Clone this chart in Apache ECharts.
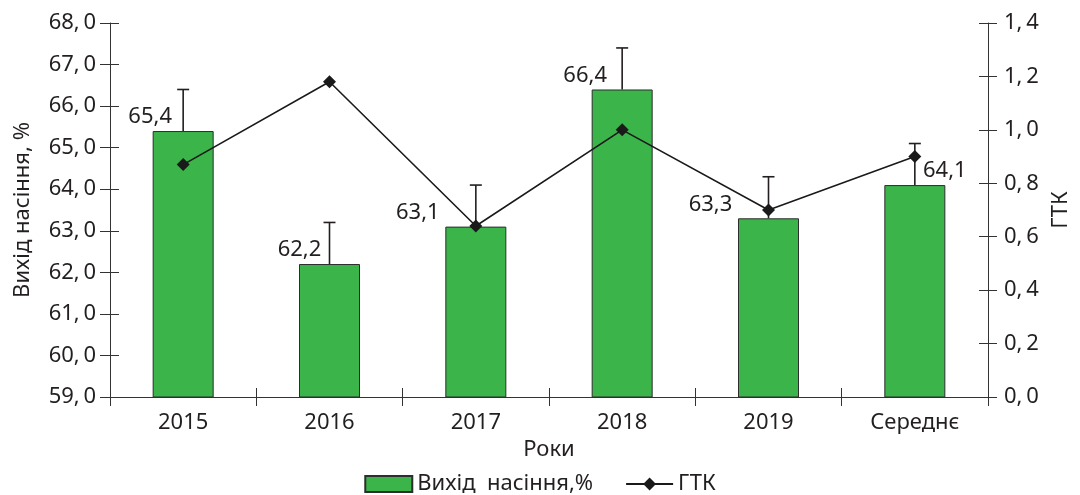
<!DOCTYPE html>
<html>
<head>
<meta charset="utf-8">
<script src="https://cdn.jsdelivr.net/npm/echarts@6/dist/echarts.min.js"></script>
<style>
  html, body { margin: 0; padding: 0; background: #fff; }
  #chart { width: 1080px; height: 495px; }
</style>
</head>
<body>
<div id="chart"></div>
<script>
// дані з рисунку
const years = ["2015", "2016", "2017", "2018", "2019", "Середнє"];
const seedYield = [65.4, 62.2, 63.1, 66.4, 63.3, 64.1];
const seedErr = [1.0, 1.0, 1.0, 1.0, 1.0, 1.0];
const gtk = [0.87, 1.18, 0.64, 1.0, 0.7, 0.9];

// зсув підписів стовпців по горизонталі
const labelShift = [-33, -30, -58, -37, -58, 30];

const FONT = "Noto Sans";
const INK = "#231f20";

const fmtTick = (v) => v.toFixed(1).replace(".", ",\u2009");

let myChart = echarts.init(document.getElementById("chart"));

myChart.setOption({
  animation: false,
  textStyle: { fontFamily: FONT, color: INK },
  grid: { left: 110, right: 78, top: 23, bottom: 98, containLabel: false },
  legend: {
    left: "center",
    top: 468,
    itemWidth: 47,
    itemHeight: 16,
    itemGap: 32,
    textStyle: { fontFamily: FONT, fontSize: 22, color: INK },
    data: [
      { name: "Вихід  насіння,%", icon: "rect" },
      { name: "ГТК" },
    ],
  },
  xAxis: [
    {
      type: "category",
      data: years,
      position: "bottom",
      name: "Роки",
      nameLocation: "middle",
      nameGap: 40,
      nameTextStyle: { fontFamily: FONT, fontSize: 22, color: INK },
      axisLine: { lineStyle: { color: "#333", width: 1 } },
      axisTick: { show: true, length: 9, lineStyle: { color: "#333" } },
      axisLabel: { margin: 15, fontSize: 22, color: INK, fontFamily: FONT, interval: 0 },
      splitLine: { show: false },
    },
    {
      type: "category",
      data: years,
      position: "bottom",
      axisLine: { show: false },
      axisTick: { show: true, inside: true, length: 9, lineStyle: { color: "#333" } },
      axisLabel: { show: false },
      splitLine: { show: false },
    },
  ],
  yAxis: [
    {
      type: "value",
      position: "left",
      min: 59,
      max: 68,
      interval: 1,
      name: "Вихід насіння, %",
      nameLocation: "middle",
      nameRotate: 90,
      nameGap: 76,
      nameTextStyle: { fontFamily: FONT, fontSize: 22, color: INK },
      axisLine: { show: true, lineStyle: { color: "#333", width: 1 } },
      axisTick: { show: true, length: 10, lineStyle: { color: "#333" } },
      axisLabel: { margin: 14, fontSize: 22, color: INK, fontFamily: FONT, formatter: fmtTick },
      splitLine: { show: false },
    },
    {
      type: "value",
      position: "right",
      min: 0,
      max: 1.4,
      interval: 0.2,
      name: "ГТК",
      nameLocation: "middle",
      nameRotate: 90,
      nameGap: 62,
      nameTextStyle: { fontFamily: FONT, fontSize: 22, color: INK },
      axisLine: { show: true, lineStyle: { color: "#333", width: 1 } },
      axisTick: { show: true, length: 9, lineStyle: { color: "#333" } },
      axisLabel: { margin: 16, fontSize: 22, color: INK, fontFamily: FONT, formatter: fmtTick },
      splitLine: { show: false },
    },
    {
      type: "value",
      position: "left",
      min: 59,
      max: 68,
      interval: 1,
      axisLine: { show: false },
      axisTick: { show: true, inside: true, length: 9, lineStyle: { color: "#333" } },
      axisLabel: { show: false },
      splitLine: { show: false },
    },
    {
      type: "value",
      position: "right",
      min: 0,
      max: 1.4,
      interval: 0.2,
      axisLine: { show: false },
      axisTick: { show: true, inside: true, length: 9, lineStyle: { color: "#333" } },
      axisLabel: { show: false },
      splitLine: { show: false },
    },
  ],
  series: [
    {
      name: "Вихід  насіння,%",
      type: "bar",
      yAxisIndex: 0,
      barWidth: 61,
      itemStyle: { color: "#3bb44a", borderColor: "#2d2d2d", borderWidth: 1 },
      data: seedYield.map((v, i) => ({
        value: v,
        label: { offset: [labelShift[i], 0] },
      })),
      label: {
        show: true,
        position: "top",
        distance: 3,
        fontSize: 22,
        fontFamily: FONT,
        color: INK,
        formatter: (p) => p.value.toFixed(1).replace(".", ","),
      },
      z: 2,
    },
    {
      name: "err",
      type: "custom",
      yAxisIndex: 0,
      data: seedYield.map((v, i) => [i, v, seedErr[i]]),
      renderItem(params, api) {
        const x = api.value(0);
        const v = api.value(1);
        const e = api.value(2);
        const p0 = api.coord([x, v]);
        const p1 = api.coord([x, v + e]);
        const st = { stroke: "#231f20", lineWidth: 1.6 };
        return {
          type: "group",
          children: [
            { type: "line", shape: { x1: p0[0], y1: p0[1], x2: p1[0], y2: p1[1] }, style: st },
            { type: "line", shape: { x1: p1[0] - 6, y1: p1[1], x2: p1[0] + 6, y2: p1[1] }, style: st },
          ],
        };
      },
      z: 3,
    },
    {
      name: "ГТК",
      type: "line",
      yAxisIndex: 1,
      data: gtk,
      symbol: "diamond",
      symbolSize: 13,
      lineStyle: { color: "#1a1a1a", width: 1.6 },
      itemStyle: { color: "#1a1a1a" },
      z: 4,
    },
  ],
});
</script>
</body>
</html>
